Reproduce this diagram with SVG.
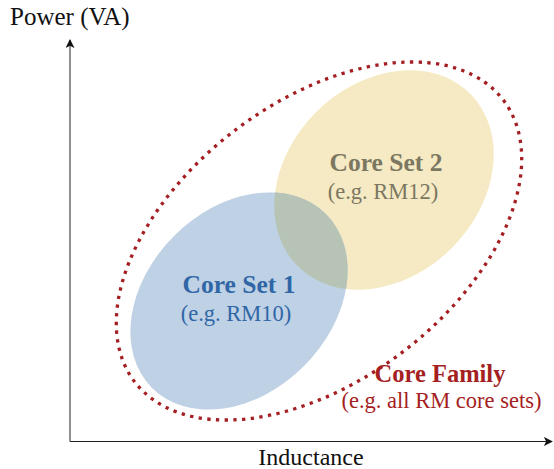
<svg xmlns="http://www.w3.org/2000/svg" width="554" height="469" viewBox="0 0 554 469">
  <style>
    text { font-family: "Liberation Serif", "Times New Roman", Times, "DejaVu Serif", serif; }
    .axis { stroke: #222; stroke-width: 1; fill: none; }
    .lbl { fill: #111; font-size: 24px; }
    .title { font-weight: bold; font-size: 25.5px; text-anchor: middle; }
    .sub { font-size: 22.5px; text-anchor: middle; }
  </style>
  <defs>
    <marker id="arr" viewBox="0 0 10 10" refX="9" refY="5" markerWidth="9" markerHeight="9" markerUnits="userSpaceOnUse" orient="auto">
      <path d="M0,0 L10,5 L0,10 L2.5,5 Z" fill="#111"/>
    </marker>
    <clipPath id="clipYellow">
      <ellipse cx="384" cy="180" rx="122" ry="96" transform="rotate(-45 384 180)"/>
    </clipPath>
  </defs>
  <rect width="554" height="469" fill="#fff"/>
  <g id="axes">
    <line class="axis" x1="70" y1="441.5" x2="70" y2="40" marker-end="url(#arr)"/>
    <line class="axis" x1="70" y1="441.5" x2="552" y2="441.5" marker-end="url(#arr)"/>
    <text class="lbl" x="10" y="25" style="font-size:25px">Power (VA)</text>
    <text class="lbl" x="311" y="465" text-anchor="middle">Inductance</text>
  </g>
  <g id="core-set-2">
    <ellipse cx="384" cy="180" rx="122" ry="96" transform="rotate(-45 384 180)" fill="#f5eac4"/>
  </g>
  <g id="core-set-1">
    <ellipse cx="239" cy="301" rx="123" ry="92" transform="rotate(-45 239 301)" fill="#bfd1e5"/>
    <g clip-path="url(#clipYellow)">
      <ellipse cx="239" cy="301" rx="123" ry="92" transform="rotate(-45 239 301)" fill="#b7c4b5"/>
    </g>
    <text class="title" x="239" y="293" fill="#2f66a6">Core Set 1</text>
    <text class="sub" x="236" y="321" fill="#2f66a6">(e.g. RM10)</text>
  </g>
  <g id="core-set-2-label">
    <text class="title" x="386" y="171" fill="#7b7761">Core Set 2</text>
    <text class="sub" x="383" y="199" fill="#7b7761">(e.g. RM12)</text>
  </g>
  <g id="core-family">
    <ellipse cx="319" cy="241" rx="232" ry="139" transform="rotate(-37.4 319 241)" fill="none" stroke="#a41e22" stroke-width="3.3" stroke-dasharray="3.3 5.4"/>
    <text class="title" x="440" y="382" fill="#a41e22" style="font-size:24.5px">Core Family</text>
    <text class="sub" x="441.5" y="408" fill="#a41e22">(e.g. all RM core sets)</text>
  </g>
</svg>
